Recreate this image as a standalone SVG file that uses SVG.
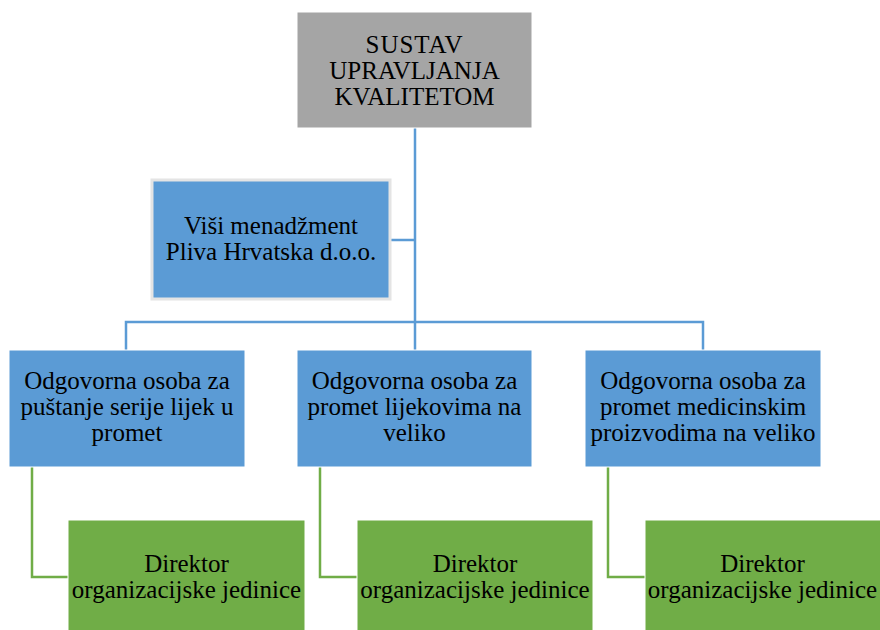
<svg xmlns="http://www.w3.org/2000/svg" width="880" height="630" viewBox="0 0 880 630">
<style>
text{font-family:'Liberation Serif','Times New Roman','DejaVu Serif',serif;font-size:25px;fill:#000;text-anchor:middle}
.blue{fill:#5b9bd5;stroke:#fff;stroke-width:1}
.green{fill:#70ad47;stroke:#fff;stroke-width:1}
.gray{fill:#a5a5a5;stroke:#fff;stroke-width:1}
.cb{fill:none;stroke:#5b9bd5;stroke-width:2.5}
.cg{fill:none;stroke:#70ad47;stroke-width:2.5}
</style>
<rect width="880" height="630" fill="#fff"/>
<g id="connectors">
<path class="cb" d="M415 128V350M391 240H415M126 350V322H703V350"/>
<path class="cg" d="M32 467V577H68M320 467V577H357M608 467V577H645"/>
</g>
<g id="sustav">
<rect class="gray" x="297" y="12" width="235" height="116"/>
<text x="414.5" y="53" letter-spacing="1">SUSTAV</text>
<text x="414.5" y="79">UPRAVLJANJA</text>
<text x="414.5" y="105">KVALITETOM</text>
</g>
<g id="visi">
<rect x="152" y="180" width="238" height="119" fill="#5b9bd5" stroke="#e4e4e4" stroke-width="3"/>
<text x="271" y="234">Viši menadžment</text>
<text x="271" y="260">Pliva Hrvatska d.o.o.</text>
</g>
<g id="osoba1">
<rect class="blue" x="9" y="350" width="236" height="117"/>
<text x="127" y="389">Odgovorna osoba za</text>
<text x="127" y="415">puštanje serije lijek u</text>
<text x="127" y="441">promet</text>
</g>
<g id="osoba2">
<rect class="blue" x="297" y="350" width="235" height="117"/>
<text x="414.5" y="389">Odgovorna osoba za</text>
<text x="414.5" y="415">promet lijekovima na</text>
<text x="414.5" y="441">veliko</text>
</g>
<g id="osoba3">
<rect class="blue" x="585" y="350" width="236" height="117"/>
<text x="703" y="389">Odgovorna osoba za</text>
<text x="703" y="415">promet medicinskim</text>
<text x="703" y="441">proizvodima na veliko</text>
</g>
<g id="direktor1">
<rect class="green" x="68" y="520" width="237" height="112"/>
<text x="186.5" y="572">Direktor</text>
<text x="186.5" y="598">organizacijske jedinice</text>
</g>
<g id="direktor2">
<rect class="green" x="357" y="520" width="236" height="112"/>
<text x="475" y="572">Direktor</text>
<text x="475" y="598">organizacijske jedinice</text>
</g>
<g id="direktor3">
<rect class="green" x="645" y="520" width="236" height="112"/>
<text x="762.5" y="572">Direktor</text>
<text x="762.5" y="598">organizacijske jedinice</text>
</g>
</svg>
